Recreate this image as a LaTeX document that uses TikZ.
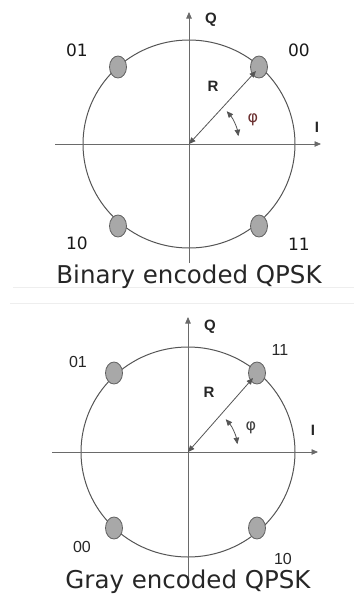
\documentclass[tikz,border=0pt]{standalone}
\usepackage{fontspec}
\setmainfont{DejaVu Sans}
\newfontfamily\arialfont{Liberation Sans}
\usetikzlibrary{shapes.geometric,arrows.meta}
\definecolor{axisgray}{HTML}{6A6A6A}
\definecolor{circgray}{HTML}{555555}
\definecolor{dotfill}{HTML}{A8A8A8}
\definecolor{dotedge}{HTML}{606060}
\definecolor{phired}{HTML}{6B3030}
\definecolor{framegray}{HTML}{EEEEEE}
\tikzset{
  tipA/.tip={Triangle[length=6.5pt,width=5.5pt]},
  axis/.style={draw=axisgray, line width=0.8pt, -tipA},
  ring/.style={draw=circgray, line width=1pt},
  sym/.style={ellipse, draw=dotedge, fill=dotfill, line width=0.8pt, minimum width=17pt, minimum height=22pt, inner sep=0pt},
  radarrow/.style={draw=circgray, line width=0.8pt, tipA-tipA},
  bitlbl/.style={font=\fontsize{17}{17}\selectfont, text=black!90},
  bitlblb/.style={font=\arialfont\fontsize{16}{16}\selectfont, text=black!85},
  axlbl/.style={font=\arialfont\bfseries\fontsize{15}{15}\selectfont, text=black!85},
  philbl/.style={font=\fontsize{16}{16}\selectfont},
  caption/.style={font=\fontsize{24.5}{24.5}\selectfont, text=black!85, anchor=base},
}
\begin{document}
\begin{tikzpicture}[x=1pt,y=-1pt]
\useasboundingbox (0,0) rectangle (354,595);
% faint frame lines
\draw[framegray, line width=0.6pt] (13,287) -- (354,287);
\draw[framegray, line width=0.6pt] (10,303) -- (354,303);

% ===== Binary encoded =====
\coordinate (o1) at (189,144);
\coordinate (l1) at (55,144);
\coordinate (r1) at (321,144);
\coordinate (b1) at (189,263);
\coordinate (t1) at (189,12);
\draw[ring] (o1) circle[x radius=106, y radius=104];
\draw[axis] (l1) -- (r1);
\draw[axis] (b1) -- (t1);
\node[sym] (a00) at (259,67) {};
\node[sym] (a01) at (118,67) {};
\node[sym] (a10) at (118,226) {};
\node[sym] (a11) at (259,226) {};
\coordinate (tip1) at (256,71);
\draw[radarrow] (o1) -- (tip1);
\draw[radarrow] ([shift={(-41:50)}]o1) arc[start angle=-41, end angle=-9, radius=50];
\node[axlbl] (q1) at (211,20) {Q};
\node[axlbl] (i1) at (317,127) {I};
\node[axlbl] (rr1) at (213,86) {R};
\node[philbl, text=phired] (p1) at (253,120) {φ};
\node[bitlbl] (t01) at (77,50) {01};
\node[bitlbl] (t00) at (299,50) {00};
\node[bitlbl] (t10) at (77,243) {10};
\node[bitlbl] (t11) at (299,244) {11};
\node[caption] (c1) at (189,283) {Binary encoded QPSK};

% ===== Gray encoded =====
\coordinate (o2) at (188,452);
\coordinate (l2) at (52,452);
\coordinate (r2) at (318,452);
\coordinate (b2) at (188,580);
\coordinate (t2) at (188,317);
\draw[ring] (o2) circle[x radius=107, y radius=105];
\draw[axis] (l2) -- (r2);
\draw[axis] (b2) -- (t2);
\node[sym] (g11) at (257,373) {};
\node[sym] (g01) at (114,373) {};
\node[sym] (g00) at (114,528) {};
\node[sym] (g10) at (257,528) {};
\coordinate (tip2) at (253,378);
\draw[radarrow] (o2) -- (tip2);
\draw[radarrow] ([shift={(-41:50)}]o2) arc[start angle=-41, end angle=-9, radius=50];
\node[axlbl] (q2) at (210,327) {Q};
\node[axlbl] (i2) at (313,430) {I};
\node[axlbl] (rr2) at (209,392) {R};
\node[philbl, text=black!75] (p2) at (251,428) {φ};
\node[bitlblb] (s01) at (78,362) {01};
\node[bitlblb] (s11) at (280,350) {11};
\node[bitlblb] (s00) at (82,547) {00};
\node[bitlblb] (s10) at (283,559) {10};
\node[caption] (c2) at (188,588) {Gray encoded QPSK};
\end{tikzpicture}
\end{document}
